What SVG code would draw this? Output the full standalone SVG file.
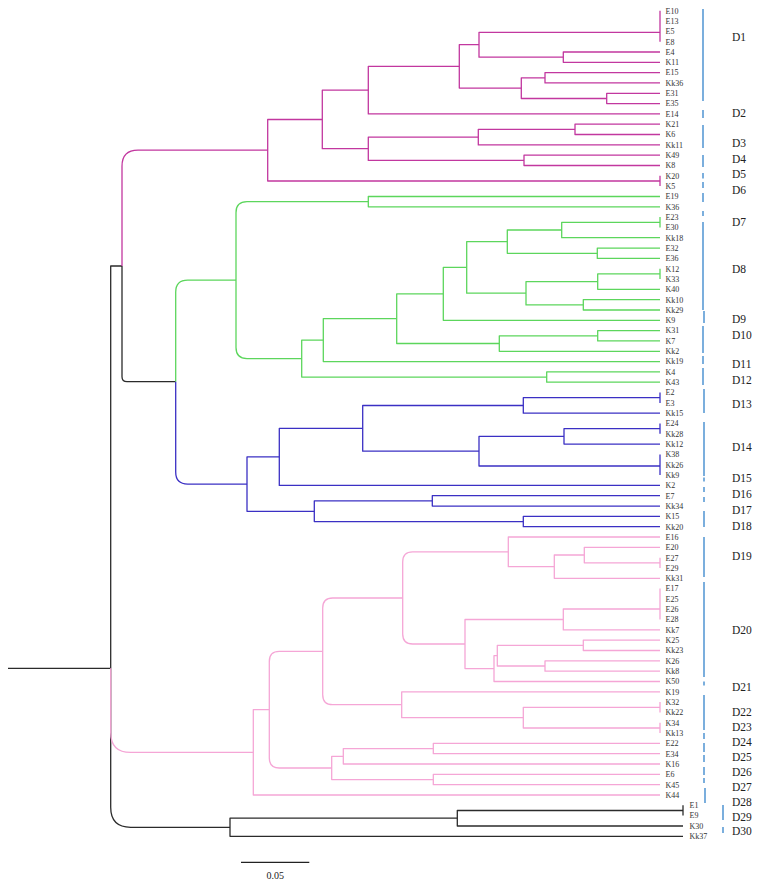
<svg xmlns="http://www.w3.org/2000/svg" width="760" height="887" viewBox="0 0 760 887">
<style>
.e{fill:none;stroke-width:1.3;stroke-linejoin:round;stroke-linecap:butt}
.k{stroke:#2b2b2b}.m{stroke:#c2379f}.g{stroke:#5cd65c}.b{stroke:#3b30c4}.p{stroke:#f5a6d6}
.bar{stroke:#5b9bd5;stroke-width:1.6;fill:none}
.lf{font-family:"Liberation Serif",serif;font-size:8px;fill:#333}
.dl{font-family:"Liberation Serif",serif;font-size:11.5px;fill:#222}
.sc{font-family:"Liberation Serif",serif;font-size:10px;fill:#222}
</style>
<rect width="760" height="887" fill="#fff"/>
<g id="connectors">
<g class="e k">
<path d="M8 668.3 H110.7"/>
<path d="M110.7 668.3 V266 H122"/>
<path d="M122 266 V376.7 Q122 381.7 127 381.7 H175.7"/>
<path d="M110.7 668.3 V807.3 Q110.7 827.3 130.7 827.3 H230"/>
<path d="M457.3 818.2 H230 V836.3 H683"/>
<path d="M683 810.5 H457.3 V826 H683"/>
<path d="M683 805.3 V815.6"/>
</g>
<g class="e m">
<path d="M122 266 V166.2 Q122 150.2 138 150.2 H267.7"/>
<path d="M322.3 119.5 H267.7 V181 H660"/>
<path d="M660 175.8 V186.1"/>
<path d="M368.3 90.2 H322.3 V148.7 H368.3"/>
<path d="M459.3 66.4 H368.3 V113.9 H660"/>
<path d="M478.3 137.1 H368.3 V160.4 H524"/>
<path d="M575 129.3 H478.3 V144.9 H660"/>
<path d="M660 124.2 H575 V134.5 H660"/>
<path d="M660 155.2 H524 V165.5 H660"/>
<path d="M479 44.7 H459.3 V88.1 H521.3"/>
<path d="M660 32.3 H479 V57.2 H563.3"/>
<path d="M660 10.7 V41.7"/>
<path d="M660 52 H563.3 V62.3 H660"/>
<path d="M545 77.8 H521.3 V98.5 H606.7"/>
<path d="M660 72.6 H545 V82.9 H660"/>
<path d="M660 93.3 H606.7 V103.6 H660"/>
</g>
<g class="e g">
<path d="M175.7 381.7 V292.2 Q175.7 280.2 187.7 280.2 H236"/>
<path d="M368.3 201.7 H247 Q236 201.7 236 212.7 V347.6 Q236 358.6 247 358.6 H301.7"/>
<path d="M660 196.5 H368.3 V206.8 H660"/>
<path d="M323.3 340.2 H301.7 V377.1 H546.7"/>
<path d="M396.7 318.7 H323.3 V361.6 H660"/>
<path d="M443.3 293.9 H396.7 V343.5 H499.3"/>
<path d="M466.7 267.4 H443.3 V320.3 H660"/>
<path d="M507.3 241.6 H466.7 V293.2 H526"/>
<path d="M561.7 230 H507.3 V253.3 H597.3"/>
<path d="M660 222.3 H561.7 V237.7 H660"/>
<path d="M660 217.1 V227.4"/>
<path d="M660 248.1 H597.3 V258.4 H660"/>
<path d="M597.7 281.6 H526 V304.9 H583.3"/>
<path d="M660 273.9 H597.7 V289.3 H660"/>
<path d="M660 268.7 V279"/>
<path d="M660 299.7 H583.3 V310 H660"/>
<path d="M597.7 335.8 H499.3 V351.3 H660"/>
<path d="M660 330.6 H597.7 V340.9 H660"/>
<path d="M660 371.9 H546.7 V382.2 H660"/>
</g>
<g class="e b">
<path d="M175.7 381.7 V472.1 Q175.7 484.1 187.7 484.1 H247"/>
<path d="M279.3 456.9 H247 V511.3 H314.3"/>
<path d="M362.7 428.4 H279.3 V485.4 H660"/>
<path d="M523.3 405.5 H362.7 V451.2 H479"/>
<path d="M660 397.7 H523.3 V413.2 H660"/>
<path d="M660 392.5 V402.9"/>
<path d="M564 436.4 H479 V466 H660"/>
<path d="M660 454.5 V475.1"/>
<path d="M660 428.7 H564 V444.1 H660"/>
<path d="M660 423.5 V433.8"/>
<path d="M432.3 500.9 H314.3 V521.6 H523.3"/>
<path d="M660 495.7 H432.3 V506.1 H660"/>
<path d="M660 516.4 H523.3 V526.7 H660"/>
</g>
<g class="e p">
<path d="M110.7 668.3 V732.4 Q110.7 752.4 130.7 752.4 H253.3"/>
<path d="M269.3 709.7 H253.3 V795 H660"/>
<path d="M322.7 651.4 H279.3 Q269.3 651.4 269.3 661.4 V758 Q269.3 768 279.3 768 H331.7"/>
<path d="M402.7 598 H332.7 Q322.7 598 322.7 608 V694.7 Q322.7 704.7 332.7 704.7 H401.7"/>
<path d="M508.3 551.9 H412.7 Q402.7 551.9 402.7 561.9 V634 Q402.7 644 412.7 644 H465"/>
<path d="M660 537 H508.3 V566.7 H554.3"/>
<path d="M584.3 555 H554.3 V578.3 H660"/>
<path d="M660 547.3 H584.3 V562.8 H660"/>
<path d="M660 557.7 V568"/>
<path d="M563.3 619.5 H465 V668.6 H494"/>
<path d="M660 609 H563.3 V629.9 H660"/>
<path d="M660 588.6 V619.6"/>
<path d="M497.3 655.7 H494 V681.5 H660"/>
<path d="M583.3 645.4 H497.3 V666 H545"/>
<path d="M660 640.2 H583.3 V650.5 H660"/>
<path d="M660 660.9 H545 V671.2 H660"/>
<path d="M660 691.8 H401.7 V717.7 H523.3"/>
<path d="M660 707.3 H523.3 V728 H660"/>
<path d="M660 702.1 V712.5"/>
<path d="M660 722.8 V733.1"/>
<path d="M343.3 756.3 H331.7 V779.6 H433.3"/>
<path d="M433.3 748.6 H343.3 V764 H660"/>
<path d="M660 743.4 H433.3 V753.7 H660"/>
<path d="M660 774.4 H433.3 V784.7 H660"/>
</g>
</g>
<g id="leaves" class="lf">
<g id="n-E10"><text x="665.5" y="13.5">E10</text></g>
<g id="n-E13"><text x="665.5" y="23.8">E13</text></g>
<g id="n-E5"><text x="665.5" y="34.1">E5</text></g>
<g id="n-E8"><text x="665.5" y="44.5">E8</text></g>
<g id="n-E4"><text x="665.5" y="54.8">E4</text></g>
<g id="n-K11"><text x="665.5" y="65.1">K11</text></g>
<g id="n-E15"><text x="665.5" y="75.4">E15</text></g>
<g id="n-Kk36"><text x="665.5" y="85.7">Kk36</text></g>
<g id="n-E31"><text x="665.5" y="96.1">E31</text></g>
<g id="n-E35"><text x="665.5" y="106.4">E35</text></g>
<g id="n-E14"><text x="665.5" y="116.7">E14</text></g>
<g id="n-K21"><text x="665.5" y="127">K21</text></g>
<g id="n-K6"><text x="665.5" y="137.3">K6</text></g>
<g id="n-Kk11"><text x="665.5" y="147.7">Kk11</text></g>
<g id="n-K49"><text x="665.5" y="158">K49</text></g>
<g id="n-K8"><text x="665.5" y="168.3">K8</text></g>
<g id="n-K20"><text x="665.5" y="178.6">K20</text></g>
<g id="n-K5"><text x="665.5" y="188.9">K5</text></g>
<g id="n-E19"><text x="665.5" y="199.3">E19</text></g>
<g id="n-K36"><text x="665.5" y="209.6">K36</text></g>
<g id="n-E23"><text x="665.5" y="219.9">E23</text></g>
<g id="n-E30"><text x="665.5" y="230.2">E30</text></g>
<g id="n-Kk18"><text x="665.5" y="240.5">Kk18</text></g>
<g id="n-E32"><text x="665.5" y="250.9">E32</text></g>
<g id="n-E36"><text x="665.5" y="261.2">E36</text></g>
<g id="n-K12"><text x="665.5" y="271.5">K12</text></g>
<g id="n-K33"><text x="665.5" y="281.8">K33</text></g>
<g id="n-K40"><text x="665.5" y="292.1">K40</text></g>
<g id="n-Kk10"><text x="665.5" y="302.5">Kk10</text></g>
<g id="n-Kk29"><text x="665.5" y="312.8">Kk29</text></g>
<g id="n-K9"><text x="665.5" y="323.1">K9</text></g>
<g id="n-K31"><text x="665.5" y="333.4">K31</text></g>
<g id="n-K7"><text x="665.5" y="343.7">K7</text></g>
<g id="n-Kk2"><text x="665.5" y="354.1">Kk2</text></g>
<g id="n-Kk19"><text x="665.5" y="364.4">Kk19</text></g>
<g id="n-K4"><text x="665.5" y="374.7">K4</text></g>
<g id="n-K43"><text x="665.5" y="385">K43</text></g>
<g id="n-E2"><text x="665.5" y="395.3">E2</text></g>
<g id="n-E3"><text x="665.5" y="405.7">E3</text></g>
<g id="n-Kk15"><text x="665.5" y="416">Kk15</text></g>
<g id="n-E24"><text x="665.5" y="426.3">E24</text></g>
<g id="n-Kk28"><text x="665.5" y="436.6">Kk28</text></g>
<g id="n-Kk12"><text x="665.5" y="446.9">Kk12</text></g>
<g id="n-K38"><text x="665.5" y="457.3">K38</text></g>
<g id="n-Kk26"><text x="665.5" y="467.6">Kk26</text></g>
<g id="n-Kk9"><text x="665.5" y="477.9">Kk9</text></g>
<g id="n-K2"><text x="665.5" y="488.2">K2</text></g>
<g id="n-E7"><text x="665.5" y="498.5">E7</text></g>
<g id="n-Kk34"><text x="665.5" y="508.9">Kk34</text></g>
<g id="n-K15"><text x="665.5" y="519.2">K15</text></g>
<g id="n-Kk20"><text x="665.5" y="529.5">Kk20</text></g>
<g id="n-E16"><text x="665.5" y="539.8">E16</text></g>
<g id="n-E20"><text x="665.5" y="550.1">E20</text></g>
<g id="n-E27"><text x="665.5" y="560.5">E27</text></g>
<g id="n-E29"><text x="665.5" y="570.8">E29</text></g>
<g id="n-Kk31"><text x="665.5" y="581.1">Kk31</text></g>
<g id="n-E17"><text x="665.5" y="591.4">E17</text></g>
<g id="n-E25"><text x="665.5" y="601.7">E25</text></g>
<g id="n-E26"><text x="665.5" y="612.1">E26</text></g>
<g id="n-E28"><text x="665.5" y="622.4">E28</text></g>
<g id="n-Kk7"><text x="665.5" y="632.7">Kk7</text></g>
<g id="n-K25"><text x="665.5" y="643">K25</text></g>
<g id="n-Kk23"><text x="665.5" y="653.3">Kk23</text></g>
<g id="n-K26"><text x="665.5" y="663.7">K26</text></g>
<g id="n-Kk8"><text x="665.5" y="674">Kk8</text></g>
<g id="n-K50"><text x="665.5" y="684.3">K50</text></g>
<g id="n-K19"><text x="665.5" y="694.6">K19</text></g>
<g id="n-K32"><text x="665.5" y="704.9">K32</text></g>
<g id="n-Kk22"><text x="665.5" y="715.3">Kk22</text></g>
<g id="n-K34"><text x="665.5" y="725.6">K34</text></g>
<g id="n-Kk13"><text x="665.5" y="735.9">Kk13</text></g>
<g id="n-E22"><text x="665.5" y="746.2">E22</text></g>
<g id="n-E34"><text x="665.5" y="756.5">E34</text></g>
<g id="n-K16"><text x="665.5" y="766.8">K16</text></g>
<g id="n-E6"><text x="665.5" y="777.2">E6</text></g>
<g id="n-K45"><text x="665.5" y="787.5">K45</text></g>
<g id="n-K44"><text x="665.5" y="797.8">K44</text></g>
<g id="n-E1"><text x="689.5" y="808.1">E1</text></g>
<g id="n-E9"><text x="689.5" y="818.4">E9</text></g>
<g id="n-K30"><text x="689.5" y="828.8">K30</text></g>
<g id="n-Kk37"><text x="689.5" y="839.1">Kk37</text></g>
</g>
<g id="group-bars" class="bar">
<path d="M703 9 V101 M703 110 V118 M703 125 V148 M703 155 V167 M703 173 V178.5 M703 182 V188 M703 193 V202 M703 211 V216 M703 222 V310 M704 311 V323 M703 326 V353 M703 356 V364 M703 368 V385 M704 389 V413 M704 422 V476 M704 477.5 V481.5 M704 487 V492 M704 497 V502 M704 511 V527 M704 537 V577 M704 582 V677 M704 681.5 V685.5 M704 695 V730 M704 733 V739 M704 743 V752 M704 755 V762 M704 767 V775 M704 778 V783 M705 788 V803 M723 805 V820 M723 827 V833"/>
</g>
<g id="group-labels" class="dl">
<g id="D1"><text x="732" y="40.7">D1</text></g>
<g id="D2"><text x="732" y="116.7">D2</text></g>
<g id="D3"><text x="732" y="147.3">D3</text></g>
<g id="D4"><text x="732" y="163.3">D4</text></g>
<g id="D5"><text x="732" y="178.3">D5</text></g>
<g id="D6"><text x="732" y="194">D6</text></g>
<g id="D7"><text x="732" y="225.7">D7</text></g>
<g id="D8"><text x="732" y="273.3">D8</text></g>
<g id="D9"><text x="732" y="323.3">D9</text></g>
<g id="D10"><text x="732" y="339">D10</text></g>
<g id="D11"><text x="732" y="368">D11</text></g>
<g id="D12"><text x="732" y="384">D12</text></g>
<g id="D13"><text x="732" y="408">D13</text></g>
<g id="D14"><text x="732" y="451.3">D14</text></g>
<g id="D15"><text x="732" y="482.3">D15</text></g>
<g id="D16"><text x="732" y="498">D16</text></g>
<g id="D17"><text x="732" y="514">D17</text></g>
<g id="D18"><text x="732" y="529.7">D18</text></g>
<g id="D19"><text x="732" y="560">D19</text></g>
<g id="D20"><text x="732" y="634">D20</text></g>
<g id="D21"><text x="732" y="690.7">D21</text></g>
<g id="D22"><text x="732" y="716.3">D22</text></g>
<g id="D23"><text x="732" y="731.3">D23</text></g>
<g id="D24"><text x="732" y="746.3">D24</text></g>
<g id="D25"><text x="732" y="761.3">D25</text></g>
<g id="D26"><text x="732" y="775.7">D26</text></g>
<g id="D27"><text x="732" y="790.7">D27</text></g>
<g id="D28"><text x="732" y="805.7">D28</text></g>
<g id="D29"><text x="732" y="820.7">D29</text></g>
<g id="D30"><text x="732" y="835">D30</text></g>
</g>
<g id="scale-bar">
<path d="M241 862.3 H309.3" stroke="#222" stroke-width="1.2" fill="none"/>
<text class="sc" x="275.2" y="879" text-anchor="middle">0.05</text>
</g>
</svg>
